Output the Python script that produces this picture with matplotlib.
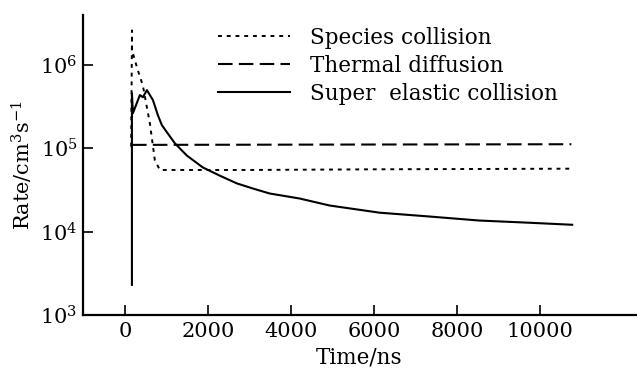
import matplotlib
matplotlib.use("Agg")
import matplotlib.pyplot as plt
from matplotlib.ticker import FixedLocator

plt.rcParams['font.family'] = ['DejaVu Serif']
plt.rcParams['mathtext.fontset'] = 'dejavuserif'

# Data
species_t = [150, 170, 170, 300, 430, 600, 720, 840, 1200, 3000, 6000, 10750]
species_v = [1.05e5, 2.6e6, 1.5e6, 9.0e5, 5.7e5, 2.0e5, 7.2e4, 5.5e4, 5.5e4, 5.5e4, 5.6e4, 5.7e4]

thermal_t = [170, 10750]
thermal_v = [1.1e5, 1.12e5]

super_t = [168, 168, 192, 360, 433, 529, 673, 793, 889, 1010, 1202, 1490, 1875,
           2284, 2692, 3077, 3486, 4207, 4928, 6130, 7332, 8534, 9736, 10770]
super_v = [2.3e3, 4.6e5, 2.64e5, 4.36e5, 4.1e5, 5.0e5, 3.8e5, 2.5e5, 1.9e5, 1.56e5,
           1.15e5, 8.2e4, 5.9e4, 4.7e4, 3.8e4, 3.3e4, 2.87e4, 2.5e4, 2.06e4, 1.69e4,
           1.52e4, 1.36e4, 1.28e4, 1.21e4]

xticks = [0, 2000, 4000, 6000, 8000, 10000]
yticks = [1e3, 1e4, 1e5, 1e6]
ytick_labels = [r'$10^{3}$', r'$10^{4}$', r'$10^{5}$', r'$10^{6}$']
labels = ['Species collision', 'Thermal diffusion', 'Super  elastic collision']

fig = plt.figure(figsize=(6.37, 3.71), dpi=100)
ax = fig.add_axes([83/637, 56/371, 1 - 83/637 - 0.002, (315-15)/371])

ax.plot(species_t, species_v, color='black', lw=1.4, linestyle=(0, (2, 2.5)), label=labels[0])
ax.plot(thermal_t, thermal_v, color='black', lw=1.5, linestyle=(0, (7, 3)), label=labels[1])
ax.plot(super_t, super_v, color='black', lw=1.5, linestyle='-', label=labels[2])

ax.set_yscale('log')
ax.set_ylim(1e3, 10**6.6)
ax.set_xlim(-1010, 12300)
ax.xaxis.set_major_locator(FixedLocator(xticks))
ax.set_xticklabels([str(v) for v in xticks], fontsize=15)
ax.yaxis.set_major_locator(FixedLocator(yticks))
ax.set_yticklabels(ytick_labels, fontsize=15)
ax.yaxis.set_minor_locator(FixedLocator([]))
ax.tick_params(axis='both', direction='in', length=7, width=1.2)
ax.tick_params(axis='x', pad=5)
ax.tick_params(axis='y', pad=4)

for s in ['top', 'right']:
    ax.spines[s].set_visible(False)
for s in ['left', 'bottom']:
    ax.spines[s].set_linewidth(1.6)

ax.set_xlabel('Time/ns', fontsize=15.5, labelpad=4)
ax.set_ylabel(r'Rate/cm$^3$s$^{-1}$', fontsize=15, labelpad=4)

leg = ax.legend(loc='upper left', bbox_to_anchor=(207/637, 1 - 16/371),
                bbox_transform=fig.transFigure, frameon=False, fontsize=15.5,
                handlelength=3.35, handletextpad=0.95, labelspacing=0.28,
                borderpad=0)

fig.savefig('out.png', dpi=100)
